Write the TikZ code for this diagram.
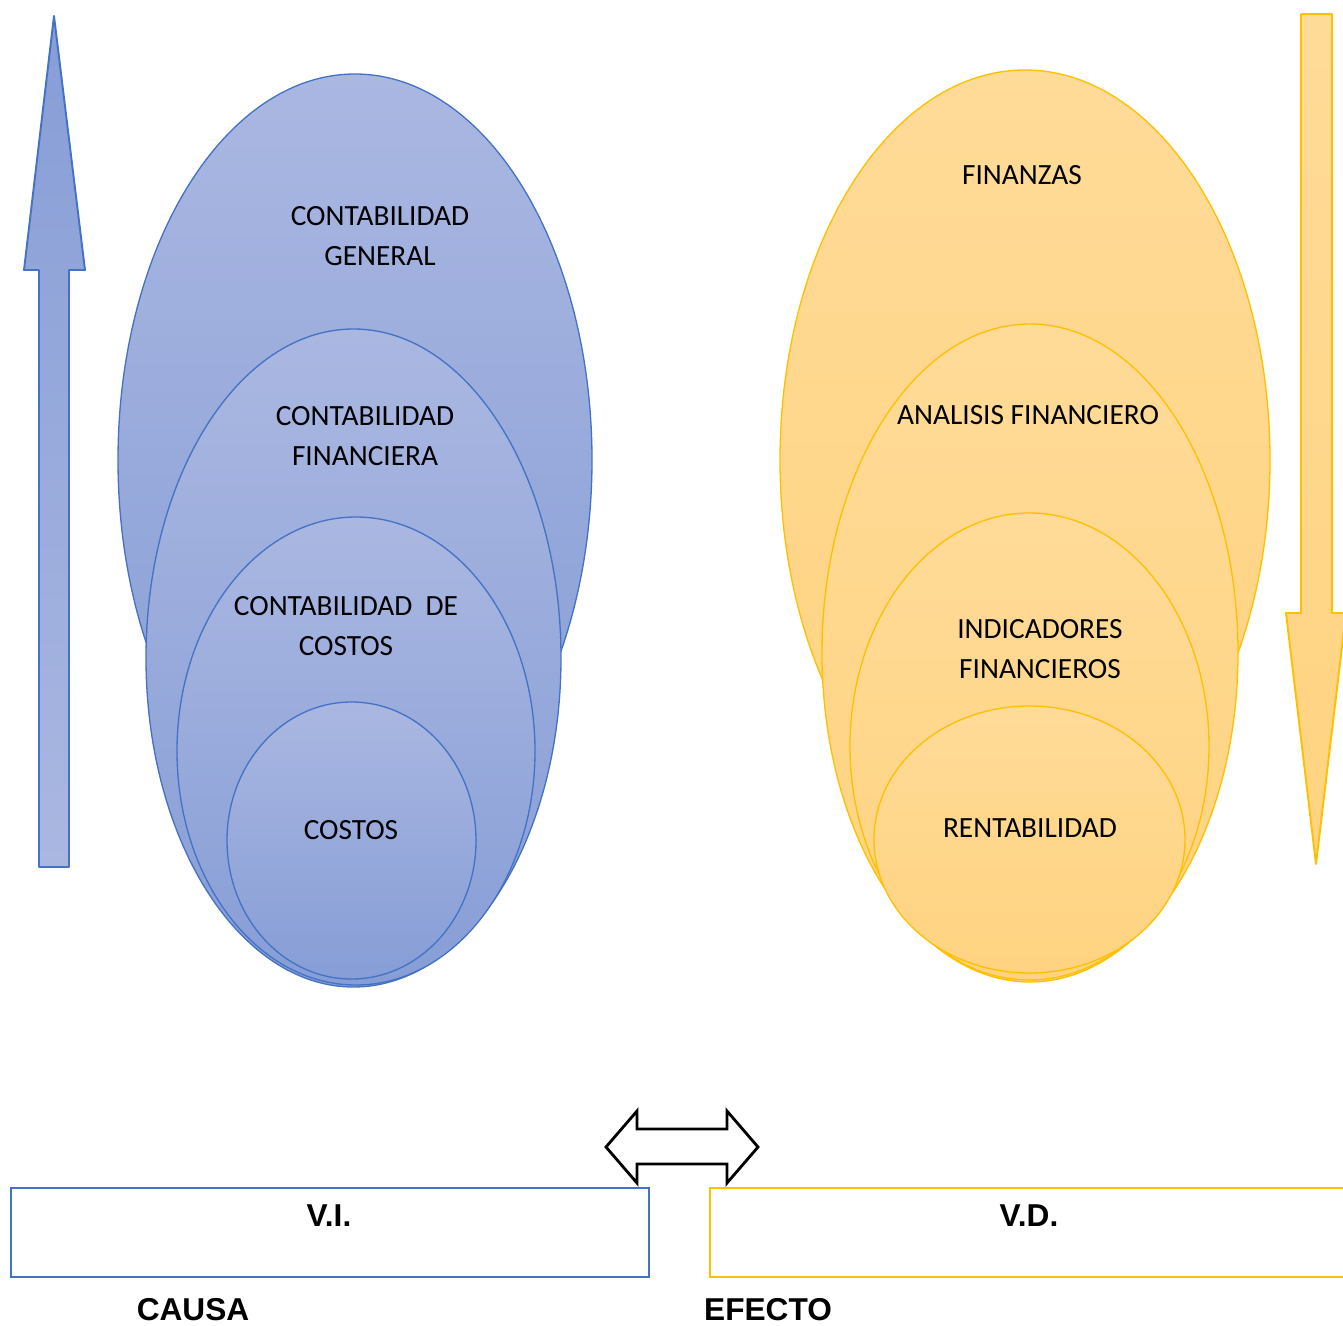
\documentclass[tikz,border=0pt]{standalone}
\usepackage{fontspec}
\setmainfont{Carlito}
\newfontfamily\headfont{Liberation Sans}
\begin{document}
\begin{tikzpicture}[x=0.02cm,y=-0.02cm,
  blueedge/.style={draw={rgb,255:red,68;green,114;blue,196}, line width=0.75pt},
  orangeedge/.style={draw={rgb,255:red,255;green,192;blue,0}, line width=0.75pt},
  lbl/.style={font=\fontsize{16.7}{22.7}\selectfont, align=center, text=black},
  head/.style={font=\headfont\bfseries\fontsize{18}{20}\selectfont, text=black},
  varbox/.style={line width=1.6pt, fill=white}]
\definecolor{bluetop}{RGB}{170,183,225}
\definecolor{bluebot}{RGB}{134,157,214}
\definecolor{blueline}{RGB}{68,114,196}
\definecolor{orangetop}{RGB}{255,219,152}
\definecolor{orangebot}{RGB}{255,211,128}
\definecolor{orangeline}{RGB}{255,192,0}

\useasboundingbox (0,0) rectangle (1343,1326);
\clip (0,0) rectangle (1343,1326);

% upward arrow on the left
\shade[top color=bluebot, bottom color=bluetop, draw=blueline, line width=1.1pt, line join=round]
  (54,16) -- (85,270) -- (69,270) -- (69,867) -- (39,867) -- (39,270) -- (24,270) -- cycle;

% downward arrow on the right
\shade[top color=orangetop, bottom color=orangebot, draw=orangeline, line width=1.1pt, line join=round]
  (1301,14) -- (1332,14) -- (1332,613) -- (1346,613) -- (1316,864) -- (1286,613) -- (1301,613) -- cycle;

% nested blue ellipses
\shade[top color=bluetop, bottom color=bluebot, blueedge] (355,460) ellipse (237 and 386);
\shade[top color=bluetop, bottom color=bluebot, blueedge] (353.5,658) ellipse (207.5 and 329);
\shade[top color=bluetop, bottom color=bluebot, blueedge] (356,751) ellipse (179 and 234);
\shade[top color=bluetop, bottom color=bluebot, blueedge] (351.5,840.5) ellipse (124.5 and 138.5);

% nested orange ellipses
\shade[top color=orangetop, bottom color=orangebot, orangeedge] (1025,460) ellipse (245 and 390);
\shade[top color=orangetop, bottom color=orangebot, orangeedge] (1030,653) ellipse (208 and 329);
\shade[top color=orangetop, bottom color=orangebot, orangeedge] (1029.5,746.5) ellipse (179.5 and 233.5);
\shade[top color=orangetop, bottom color=orangebot, orangeedge] (1029.5,839.5) ellipse (155.5 and 133.5);

% ellipse labels
\node[lbl] (cg) at (380,236) {CONTABILIDAD\\GENERAL};
\node[lbl] (cf) at (365,436) {CONTABILIDAD\\FINANCIERA};
\node[lbl] (cc) at (346,626) {CONTABILIDAD\ \ DE\\COSTOS};
\node[lbl] (co) at (351,830) {COSTOS};
\node[lbl] (fi) at (1022,175) {FINANZAS};
\node[lbl] (af) at (1028,415) {ANALISIS FINANCIERO};
\node[lbl] (if) at (1040,649) {INDICADORES\\FINANCIEROS};
\node[lbl] (re) at (1030,828) {RENTABILIDAD};

% two-headed arrow between the variables
\draw[line width=1.6pt, fill=white, line join=miter]
  (606,1147) -- (637,1111) -- (637,1129) -- (727,1129) -- (727,1111) -- (758,1147)
  -- (727,1183) -- (727,1164) -- (637,1164) -- (637,1183) -- cycle;

% variable boxes
\draw[varbox, draw=blueline] (11,1188) rectangle (649,1277);
\draw[varbox, draw=orangeline] (710,1188) rectangle (1360,1277);
\node[head] (vi) at (329,1216) {V.I.};
\node[head] (vd) at (1029,1216) {V.D.};
\node[head] (ca) at (193,1310) {CAUSA};
\node[head] (ef) at (768,1310) {EFECTO};
\end{tikzpicture}
\end{document}
